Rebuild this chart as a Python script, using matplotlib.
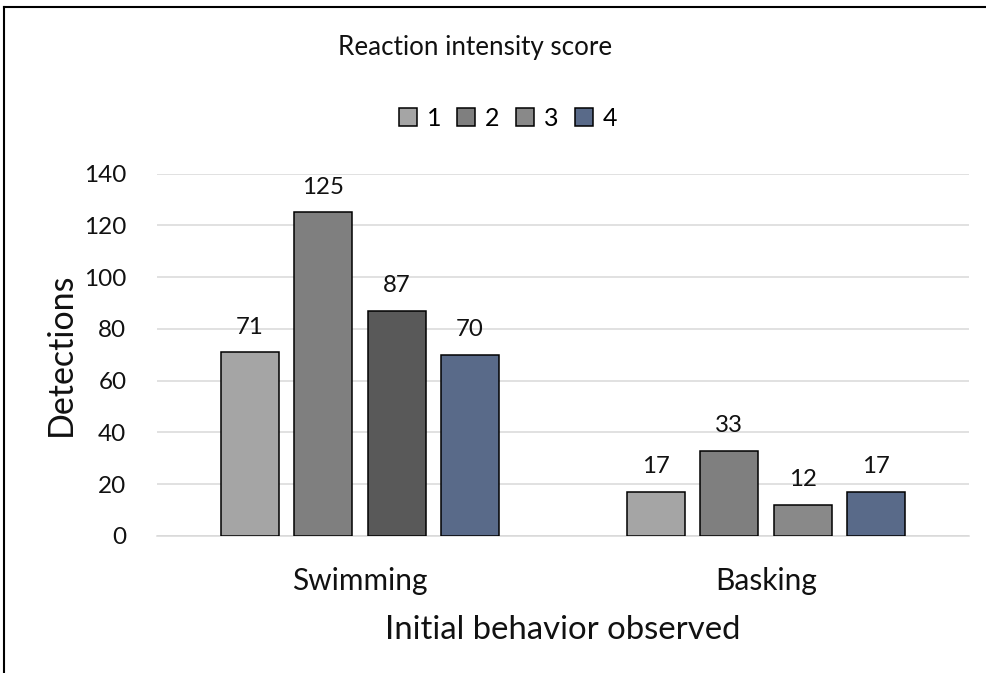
import matplotlib
matplotlib.use("Agg")
import matplotlib.pyplot as plt
from matplotlib.patches import Patch
from matplotlib.lines import Line2D
import numpy as np

plt.rcParams['font.family'] = ['Lato', 'DejaVu Sans']

# Data
behaviors = ["Swimming", "Basking"]
scores = ["1", "2", "3", "4"]
swimming = [71, 125, 87, 70]
basking = [17, 33, 12, 17]
yticks = [0, 20, 40, 60, 80, 100, 120, 140]

# Styles
score_colors = ["#A5A5A5", "#7F7F7F", "#898989", "#596A89"]
# the third swimming bar is drawn darker than the rest of its series
bar_colors = {
    "Swimming": ["#A5A5A5", "#7F7F7F", "#595959", "#596A89"],
    "Basking": ["#A5A5A5", "#7F7F7F", "#898989", "#596A89"],
}

W, H = 987, 673
fig = plt.figure(figsize=(W / 100, H / 100), dpi=100)
ax = fig.add_axes([157 / W, 1 - 536 / H, (969 - 157) / W, (536 - 173.5) / H])

values = {"Swimming": swimming, "Basking": basking}
step = 0.1806
width = 0.143
x = np.arange(len(behaviors))
for i, beh in enumerate(behaviors):
    for j, v in enumerate(values[beh]):
        xpos = x[i] + (j - 1.5) * step
        ax.bar(xpos, v, width=width, color=bar_colors[beh][j],
               edgecolor="black", linewidth=1.1, zorder=3)
        ax.annotate(str(v), (xpos, v), xytext=(0, 18), textcoords="offset points",
                    ha="center", va="center", fontsize=17.3, color="#111111")

ax.set_xlim(-0.5, 1.5)
ax.set_ylim(0, 140)
ax.set_yticks(yticks)
ax.set_yticklabels([str(t) for t in yticks])
ax.set_xticks(x)
ax.set_xticklabels(behaviors)
ax.tick_params(axis="both", length=0, colors="#111111")
ax.tick_params(axis="y", labelsize=17.5, pad=22)
ax.tick_params(axis="x", labelsize=21.5, pad=22)
ax.yaxis.grid(True, color="#D9D9D9", linewidth=1.1, zorder=0)
ax.set_axisbelow(True)
for side in ["top", "right", "left"]:
    ax.spines[side].set_visible(False)
ax.spines["bottom"].set_color("#D9D9D9")
ax.spines["bottom"].set_linewidth(1.1)

ax.set_xlabel("Initial behavior observed", fontsize=23.7, color="#111111", labelpad=15)
ax.set_ylabel("Detections", fontsize=24.5, color="#111111", labelpad=5)

fig.text(475 / W, 1 - 48 / H, "Reaction intensity score", ha="center", va="center",
         fontsize=18.7, color="#111111")

handles = [Patch(facecolor=c, edgecolor="black", linewidth=1.1) for c in score_colors]
fig.legend(handles, scores, loc="center", bbox_to_anchor=(508 / W, 1 - 118 / H),
           ncol=4, frameon=False, fontsize=18, handlelength=0.72, handleheight=0.72,
           handletextpad=0.4, columnspacing=0.65)

# outer frame on top and left edges
fig.add_artist(Line2D([4 / W, 1], [1 - 7 / H, 1 - 7 / H], color="black", linewidth=1.5,
                      transform=fig.transFigure))
fig.add_artist(Line2D([4 / W, 4 / W], [0, 1 - 7 / H], color="black", linewidth=1.5,
                      transform=fig.transFigure))

fig.savefig("out.png", dpi=100)
